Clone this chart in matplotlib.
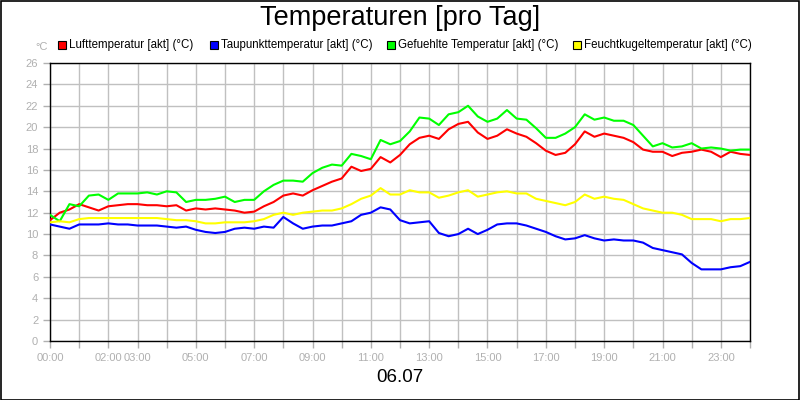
import numpy as np
import matplotlib
matplotlib.use("Agg")
import matplotlib.pyplot as plt
from matplotlib.patches import Rectangle

plt.rcParams['font.family'] = ['Liberation Sans', 'DejaVu Sans']

# readings every 20 minutes, 00:00 .. 24:00
stunden = np.arange(0, 1441, 20) / 60.0

luft = [11.3, 12.0, 12.3, 12.8, 12.5, 12.2, 12.6, 12.7, 12.8, 12.8, 12.7, 12.7, 12.6, 12.7,
        12.2, 12.4, 12.3, 12.4, 12.3, 12.2, 12.0, 12.1, 12.6, 13.0, 13.6, 13.8, 13.6, 14.1,
        14.5, 14.9, 15.2, 16.3, 15.9, 16.1, 17.2, 16.7, 17.4, 18.4, 19.0, 19.2, 18.9, 19.8,
        20.3, 20.5, 19.5, 18.9, 19.2, 19.8, 19.4, 19.1, 18.5, 17.8, 17.4, 17.6, 18.4, 19.6,
        19.1, 19.4, 19.2, 19.0, 18.6, 17.9, 17.7, 17.7, 17.3, 17.6, 17.7, 17.9, 17.7, 17.2,
        17.7, 17.5, 17.4]
taupunkt = [10.9, 10.7, 10.5, 10.9, 10.9, 10.9, 11.0, 10.9, 10.9, 10.8, 10.8, 10.8, 10.7, 10.6,
            10.7, 10.4, 10.2, 10.1, 10.2, 10.5, 10.6, 10.5, 10.7, 10.6, 11.6, 11.0, 10.5, 10.7,
            10.8, 10.8, 11.0, 11.2, 11.8, 12.0, 12.5, 12.3, 11.3, 11.0, 11.1, 11.2, 10.1, 9.8,
            10.0, 10.5, 10.0, 10.4, 10.9, 11.0, 11.0, 10.8, 10.5, 10.2, 9.8, 9.5, 9.6, 9.9,
            9.6, 9.4, 9.5, 9.4, 9.4, 9.2, 8.7, 8.5, 8.3, 8.1, 7.3, 6.7, 6.7, 6.7,
            6.9, 7.0, 7.4]
gefuehlt = [11.8, 11.2, 12.8, 12.6, 13.6, 13.7, 13.2, 13.8, 13.8, 13.8, 13.9, 13.7, 14.0, 13.9,
            13.0, 13.2, 13.2, 13.3, 13.5, 13.0, 13.2, 13.2, 14.0, 14.6, 15.0, 15.0, 14.9, 15.7,
            16.2, 16.5, 16.4, 17.5, 17.3, 17.0, 18.8, 18.4, 18.7, 19.6, 20.9, 20.8, 20.2, 21.2,
            21.4, 22.0, 21.0, 20.5, 20.8, 21.6, 20.8, 20.7, 19.9, 19.0, 19.0, 19.4, 20.0, 21.2,
            20.7, 20.9, 20.6, 20.6, 20.2, 19.2, 18.2, 18.5, 18.1, 18.2, 18.5, 18.0, 18.1, 18.0,
            17.8, 17.9, 17.9]
feucht = [11.1, 11.2, 11.1, 11.4, 11.5, 11.5, 11.5, 11.5, 11.5, 11.5, 11.5, 11.5, 11.4, 11.3,
          11.3, 11.2, 11.0, 11.0, 11.1, 11.1, 11.1, 11.2, 11.4, 11.8, 12.0, 11.8, 12.0, 12.1,
          12.2, 12.2, 12.4, 12.8, 13.3, 13.6, 14.3, 13.7, 13.7, 14.1, 13.9, 13.9, 13.4, 13.6,
          13.9, 14.1, 13.5, 13.7, 13.9, 14.0, 13.8, 13.8, 13.3, 13.1, 12.9, 12.7, 13.0, 13.7,
          13.3, 13.5, 13.3, 13.2, 12.8, 12.4, 12.2, 12.0, 12.0, 11.8, 11.4, 11.4, 11.4, 11.2,
          11.4, 11.4, 11.5]

namen = ["Lufttemperatur [akt] (°C)", "Taupunkttemperatur [akt] (°C)",
         "Gefuehlte Temperatur [akt] (°C)", "Feuchtkugeltemperatur [akt] (°C)"]
farben = ["#ff0000", "#0000ff", "#00ff00", "#ffff00"]
x_labels = {0: "00:00", 2: "02:00", 3: "03:00", 5: "05:00", 7: "07:00", 9: "09:00",
            11: "11:00", 13: "13:00", 15: "15:00", 17: "17:00", 19: "19:00",
            21: "21:00", 23: "23:00"}

grau = "#b0b0b0"
fig = plt.figure(figsize=(8, 4), dpi=100)
ax = fig.add_axes([50/800, 59/400, 700/800, 278/400])

for werte, farbe in zip([luft, taupunkt, gefuehlt, feucht], farben):
    ax.plot(stunden, werte, color=farbe, lw=1.5, zorder=3)

ax.set_xlim(0, 24)
ax.set_ylim(0, 26)
ax.set_xticks(range(25))
ax.set_xticklabels([x_labels.get(h, "") for h in range(25)])
ax.set_yticks(range(0, 27, 2))
ax.grid(True, color="#c0c0c0", lw=1)
ax.tick_params(colors=grau, labelcolor=grau, labelsize=8, length=5, width=1)
for s in ax.spines.values():
    s.set_color("black")
    s.set_linewidth(1)

fig.text(0.5, 1 - 18/400, "Temperaturen [pro Tag]", ha="center", va="center", fontsize=19.5)
fig.text(0.5, 1 - 377/400, "06.07", ha="center", va="center", fontsize=13.5)
fig.text(48/800, 1 - 47/400, "°C", ha="right", va="center", fontsize=8, color=grau)

kasten_x = [58, 210, 387, 573]
for kx, name, farbe in zip(kasten_x, namen, farben):
    fig.patches.append(Rectangle((kx/800, 1 - 49/400), 8/800, 8/400, transform=fig.transFigure,
                                 facecolor=farbe, edgecolor="black", lw=0.8))
    fig.text((kx + 11)/800, 1 - 45/400, name, ha="left", va="center", fontsize=8.3)

fig.patches.append(Rectangle((0.5/800, 0.5/400), 798.5/800, 398.5/400, transform=fig.transFigure,
                             facecolor="none", edgecolor="black", lw=1.2))

fig.savefig("out.png", dpi=100)
